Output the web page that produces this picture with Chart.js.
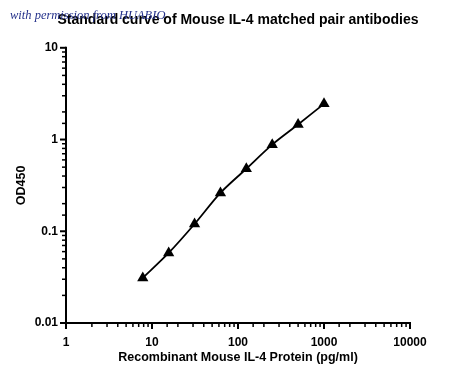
<!DOCTYPE html>
<html>
<head>
<meta charset="utf-8">
<script src="https://cdn.jsdelivr.net/npm/chart.js@4/dist/chart.umd.min.js"></script>
<style>
html,body{margin:0;padding:0;background:#fff;}
#wrap{position:relative;width:450px;height:383px;}
#wm{position:absolute;left:10px;top:8px;font-family:"Liberation Serif","DejaVu Serif",serif;font-style:italic;font-size:12.5px;color:#23308a;white-space:nowrap;z-index:2;}
</style>
</head>
<body>
<div id="wrap">
<canvas id="c" width="450" height="383"></canvas>
<div id="wm">with permission from HUABIO</div>
</div>
<script>
const concentrations = [7.8125, 15.625, 31.25, 62.5, 125, 250, 500, 1000];
const od450 = [0.031, 0.058, 0.12, 0.262, 0.48, 0.88, 1.46, 2.45];
const xTickLabels = [1, 10, 100, 1000, 10000];
const yTickLabels = [0.01, 0.1, 1, 10];

const points = concentrations.map((x, i) => ({x: x, y: od450[i]}));

const tickPlugin = {
  id: 'customTicks',
  afterLayout(chart) {
    const tb = chart.titleBlock;
    if (tb) {
      const c = (chart.chartArea.left + chart.chartArea.right) / 2;
      const half = Math.min(c, chart.width - c);
      tb.left = c - half; tb.right = c + half; tb.width = 2 * half;
    }
  },
  afterDraw(chart) {
    const ctx = chart.ctx;
    const xs = chart.scales.x, ys = chart.scales.y;
    ctx.save();
    ctx.strokeStyle = '#000';
    ctx.lineCap = 'butt';
    ctx.lineWidth = 2;
    ctx.beginPath();
    ctx.moveTo(xs.left - 1, ys.bottom);
    ctx.lineTo(xs.right + 1, ys.bottom);
    ctx.moveTo(xs.left, ys.top - 1);
    ctx.lineTo(xs.left, ys.bottom + 1);
    ctx.stroke();
    const isMajor = v => Math.abs(Math.log10(v) - Math.round(Math.log10(v))) < 1e-9;
    xs.ticks.forEach(t => {
      const px = xs.getPixelForValue(t.value);
      const maj = isMajor(t.value);
      ctx.lineWidth = maj ? 2 : 1.5;
      ctx.beginPath();
      ctx.moveTo(px, ys.bottom);
      ctx.lineTo(px, ys.bottom + (maj ? 6 : 4));
      ctx.stroke();
    });
    ys.ticks.forEach(t => {
      const py = ys.getPixelForValue(t.value);
      const maj = isMajor(t.value);
      ctx.lineWidth = maj ? 2 : 1.5;
      ctx.beginPath();
      ctx.moveTo(xs.left, py);
      ctx.lineTo(xs.left - (maj ? 6 : 4), py);
      ctx.stroke();
    });
    ctx.restore();
  }
};

const fam = 'Liberation Sans, Arial, sans-serif';

new Chart(document.getElementById('c'), {
  type: 'scatter',
  data: {
    datasets: [{
      data: points,
      showLine: true,
      borderColor: '#000',
      backgroundColor: '#000',
      borderWidth: 1.8,
      tension: 0.3,
      pointStyle: 'triangle',
      pointRadius: 6.5,
      pointHoverRadius: 6.5,
      pointBorderWidth: 0
    }]
  },
  options: {
    responsive: false,
    animation: false,
    events: [],
    layout: {padding: {left: 14, right: 40, top: 0, bottom: 18}},
    plugins: {
      legend: {display: false},
      tooltip: {enabled: false},
      title: {
        display: true,
        text: 'Standard curve of Mouse IL-4 matched pair antibodies',
        color: '#000',
        font: {family: fam, size: 14, weight: 'bold'},
        padding: {top: 12, bottom: 19}
      }
    },
    scales: {
      x: {
        type: 'logarithmic',
        min: 1, max: 10000,
        border: {display: false},
        grid: {display: false, drawTicks: false},
        ticks: {
          color: '#000',
          font: {family: fam, size: 12, weight: 'bold'},
          padding: 12,
          autoSkip: false,
          maxRotation: 0,
          callback: v => xTickLabels.includes(v) ? String(v) : ''
        },
        title: {
          display: true,
          text: 'Recombinant Mouse IL-4 Protein (pg/ml)',
          color: '#000',
          font: {family: fam, size: 12.5, weight: 'bold'},
          padding: {top: 4, bottom: 0}
        },
        afterFit: s => { s.height = 42; }
      },
      y: {
        type: 'logarithmic',
        min: 0.01, max: 10,
        border: {display: false},
        grid: {display: false, drawTicks: false},
        ticks: {
          color: '#000',
          font: {family: fam, size: 12, weight: 'bold'},
          padding: 8,
          autoSkip: false,
          callback: v => yTickLabels.includes(v) ? String(v) : ''
        },
        title: {
          display: true,
          text: 'OD450',
          color: '#000',
          font: {family: fam, size: 12.5, weight: 'bold'},
          padding: {top: 0, bottom: 8}
        },
        afterFit: s => { s.width = 52; }
      }
    }
  },
  plugins: [tickPlugin]
});
</script>
</body>
</html>
